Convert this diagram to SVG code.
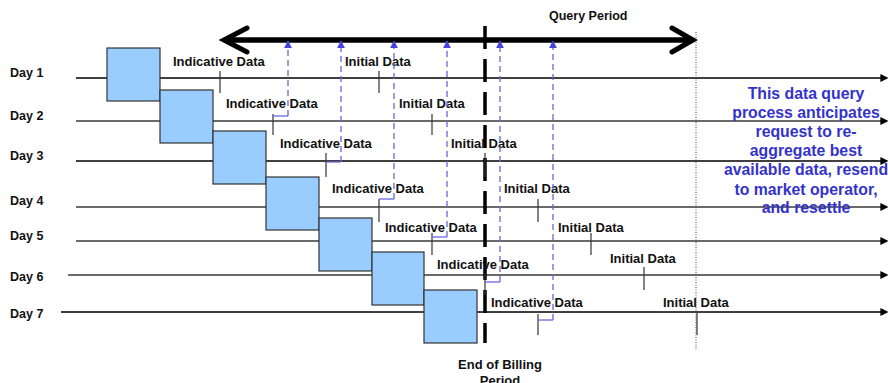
<svg xmlns="http://www.w3.org/2000/svg" width="888" height="383" viewBox="0 0 888 383">
<defs>
<style>
.t{font-family:"Liberation Sans",Arial,sans-serif;font-weight:bold;font-size:13px;fill:#111}
.day{font-family:"Liberation Sans",Arial,sans-serif;font-weight:bold;font-size:12.5px;fill:#111}
.note{font-family:"Liberation Sans",Arial,sans-serif;font-weight:bold;font-size:15.8px;fill:#3333CC;text-anchor:middle}
.box{fill:#99CCFF;stroke:#333;stroke-width:1.2}
.lnk{stroke:#000;stroke-width:1.3;fill:none}
.lng{stroke:#6a6a6a;stroke-width:2;fill:none}
.tick{stroke:#333;stroke-width:1.2}
.bl{stroke:#6666DD;stroke-width:1.3;fill:none}
.bld{stroke:#6666DD;stroke-width:1.3;fill:none;stroke-dasharray:6 4}
</style>
<marker id="endArr" viewBox="0 0 10 10" refX="2" refY="5" markerWidth="8" markerHeight="8" markerUnits="userSpaceOnUse" orient="auto"><path d="M0,0 L10,5 L0,10 Z" fill="#000"/></marker>
<marker id="blueArr" viewBox="0 0 10 10" refX="9" refY="5" markerWidth="8" markerHeight="8" markerUnits="userSpaceOnUse" orient="auto"><path d="M0,0 L10,5 L0,10 Z" fill="#4444DD"/></marker>
</defs>
<rect width="888" height="383" fill="#fff"/>

<g id="day-lines">
<line class="lnk" x1="76" y1="78" x2="882" y2="78" marker-end="url(#endArr)"/>
<line class="lng" x1="76" y1="121" x2="882" y2="121" marker-end="url(#endArr)"/>
<line class="lnk" x1="76" y1="161" x2="882" y2="161" marker-end="url(#endArr)"/>
<line class="lng" x1="76" y1="207" x2="882" y2="207" marker-end="url(#endArr)"/>
<line class="lng" x1="76" y1="241" x2="882" y2="241" marker-end="url(#endArr)"/>
<line class="lng" x1="68" y1="275" x2="882" y2="275" marker-end="url(#endArr)"/>
<line class="lnk" x1="61" y1="312" x2="882" y2="312" marker-end="url(#endArr)"/>
</g>

<g id="day-labels">
<text class="day" x="10" y="77">Day 1</text>
<text class="day" x="10" y="120">Day 2</text>
<text class="day" x="10" y="160">Day 3</text>
<text class="day" x="10" y="205">Day 4</text>
<text class="day" x="10" y="240">Day 5</text>
<text class="day" x="10" y="281">Day 6</text>
<text class="day" x="10" y="318">Day 7</text>
</g>

<g id="boxes">
<rect id="box1" class="box" x="107" y="48" width="53" height="53"/>
<rect id="box2" class="box" x="160" y="90" width="53" height="53"/>
<rect id="box3" class="box" x="213" y="131" width="53" height="53"/>
<rect id="box4" class="box" x="266" y="177" width="53" height="53"/>
<rect id="box5" class="box" x="319" y="218" width="53" height="53"/>
<rect id="box6" class="box" x="372" y="252" width="52" height="53"/>
<rect id="box7" class="box" x="424" y="290" width="53" height="53"/>
</g>

<g id="query-period">
<line x1="226" y1="40" x2="691" y2="40" stroke="#000" stroke-width="5.5"/>
<polyline points="247,28 224,40 247,52" fill="none" stroke="#000" stroke-width="5" stroke-linecap="round" stroke-linejoin="miter"/>
<polyline points="672,28 693,40 672,52" fill="none" stroke="#000" stroke-width="5" stroke-linecap="round" stroke-linejoin="miter"/>
<text class="t" x="549" y="20" style="font-size:12.5px">Query Period</text>
</g>

<g id="query-end-line">
<line x1="696" y1="32" x2="696" y2="350" stroke="#444" stroke-width="1" stroke-dasharray="1 1.5"/>
</g>

<g id="billing-end">
<line x1="485" y1="26" x2="485" y2="343" stroke="#000" stroke-width="3.5" stroke-dasharray="23 10"/>
<text class="t" x="500" y="369" text-anchor="middle">End of Billing</text>
<text class="t" x="500" y="385" text-anchor="middle">Period</text>
</g>

<g id="ticks">
<line class="tick" x1="220" y1="71" x2="220" y2="93"/>
<line class="tick" x1="273" y1="114" x2="273" y2="135"/>
<line class="tick" x1="326" y1="153" x2="326" y2="177"/>
<line class="tick" x1="379" y1="199" x2="379" y2="222"/>
<line class="tick" x1="432" y1="233" x2="432" y2="255"/>
<line class="tick" x1="485" y1="273" x2="485" y2="295"/>
<line class="tick" x1="538" y1="314" x2="538" y2="335"/>
<line class="tick" x1="379" y1="71" x2="379" y2="93"/>
<line class="tick" x1="432" y1="114" x2="432" y2="135"/>
<line class="tick" x1="485" y1="153" x2="485" y2="177"/>
<line class="tick" x1="538" y1="199" x2="538" y2="222"/>
<line class="tick" x1="591" y1="233" x2="591" y2="255"/>
<line class="tick" x1="644" y1="267" x2="644" y2="290"/>
<line class="tick" x1="697" y1="313" x2="697" y2="335"/>
</g>

<g id="data-labels">
<text class="t" x="173" y="66">Indicative Data</text>
<text class="t" x="226" y="108">Indicative Data</text>
<text class="t" x="280" y="148">Indicative Data</text>
<text class="t" x="332" y="193">Indicative Data</text>
<text class="t" x="385" y="232">Indicative Data</text>
<text class="t" x="437" y="269">Indicative Data</text>
<text class="t" x="491" y="307">Indicative Data</text>
<text class="t" x="345" y="66">Initial Data</text>
<text class="t" x="399" y="108">Initial Data</text>
<text class="t" x="451" y="148">Initial Data</text>
<text class="t" x="504" y="193">Initial Data</text>
<text class="t" x="558" y="232">Initial Data</text>
<text class="t" x="610" y="263">Initial Data</text>
<text class="t" x="663" y="307">Initial Data</text>
</g>

<g id="connectors">
<polyline class="bl" points="273,116 288,116"/>
<line class="bld" x1="288" y1="116" x2="288" y2="41" marker-end="url(#blueArr)"/>
<polyline class="bl" points="326,162 341,162"/>
<line class="bld" x1="341" y1="162" x2="341" y2="41" marker-end="url(#blueArr)"/>
<polyline class="bl" points="379,199 394,199"/>
<line class="bld" x1="394" y1="199" x2="394" y2="41" marker-end="url(#blueArr)"/>
<polyline class="bl" points="432,237 447,237"/>
<line class="bld" x1="447" y1="237" x2="447" y2="41" marker-end="url(#blueArr)"/>
<polyline class="bl" points="485,282 500,282"/>
<line class="bld" x1="500" y1="282" x2="500" y2="41" marker-end="url(#blueArr)"/>
<polyline class="bl" points="538,320 553,320"/>
<line class="bld" x1="553" y1="320" x2="553" y2="41" marker-end="url(#blueArr)"/>
</g>

<g id="note">
<text class="note" x="806" y="99">This data query</text>
<text class="note" x="806" y="118">process anticipates</text>
<text class="note" x="806" y="137">request to re-</text>
<text class="note" x="806" y="156">aggregate best</text>
<text class="note" x="806" y="175">available data, resend</text>
<text class="note" x="806" y="195">to market operator,</text>
<text class="note" x="806" y="213">and resettle</text>
</g>
</svg>
